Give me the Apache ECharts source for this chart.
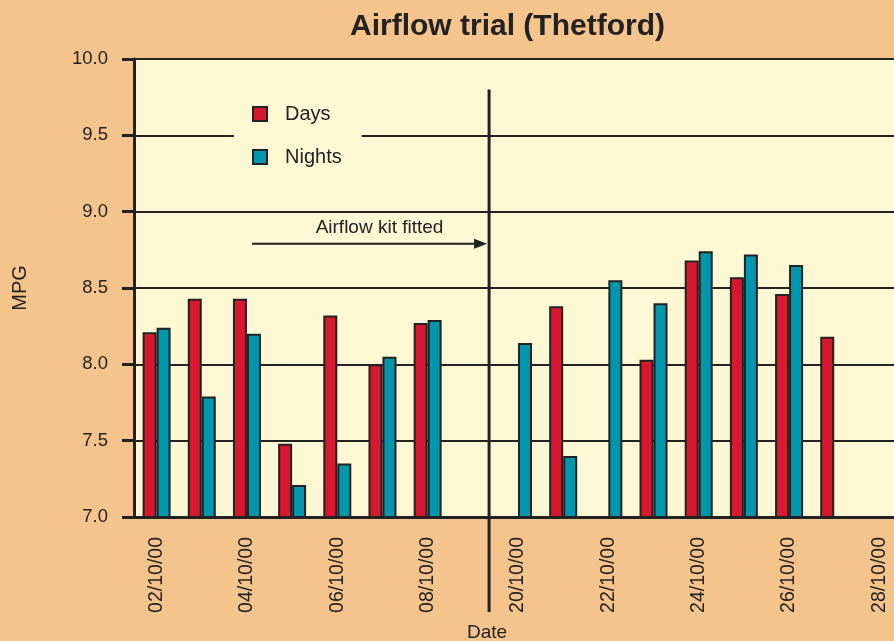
<!DOCTYPE html>
<html>
<head>
<meta charset="utf-8">
<title>Airflow trial (Thetford)</title>
<script src="https://cdn.jsdelivr.net/npm/echarts@6/dist/echarts.min.js"></script>
<style>
  html, body { margin: 0; padding: 0; background: #f4c48c; }
  #main { width: 894px; height: 641px; }
</style>
</head>
<body>
<div id="main"></div>
<script>
// data
var dates = ['02/10/00', '03/10/00', '04/10/00', '05/10/00', '06/10/00', '07/10/00', '08/10/00', '09/10/00',
             '20/10/00', '21/10/00', '22/10/00', '23/10/00', '24/10/00', '25/10/00', '26/10/00', '27/10/00', '28/10/00'];
var daysMpg = [8.21, 8.43, 8.43, 7.48, 8.32, 8.00, 8.27, null,
               null, 8.38, null, 8.03, 8.68, 8.57, 8.46, 8.18, null];
var nightsMpg = [8.24, 7.79, 8.20, 7.21, 7.35, 8.05, 8.29, null,
                 8.14, 7.40, 8.55, 8.40, 8.74, 8.72, 8.65, null, null];
var yMin = 7.0;
var yMax = 10.0;
var yStep = 0.5;
var kitFittedAfter = '09/10/00';
var kitFittedFrom = '20/10/00';

var ink = '#222222';
var font = '"Liberation Sans", Arial, Helvetica, sans-serif';
var cream = '#fff8d4';

var chart = echarts.init(document.getElementById('main'));

var option = {
    backgroundColor: '#f4c48c',
    textStyle: { fontFamily: font },
    title: {
        text: 'Airflow trial (Thetford)',
        left: 345,
        top: 7,
        textStyle: { fontFamily: font, fontSize: 30, fontWeight: 'bold', color: ink }
    },
    legend: {
        orient: 'vertical',
        left: 234,
        top: 94,
        padding: [10, 20, 10, 18],
        itemWidth: 40,
        itemHeight: 14,
        itemGap: 23,
        icon: 'path://M0,0H10V10H0Z',
        backgroundColor: cream,
        textStyle: { fontFamily: font, fontSize: 20, color: ink, lineHeight: 20 },
        data: ['Days', 'Nights']
    },
    grid: {
        left: 134,
        right: -8,
        top: 59,
        bottom: 124,
        outerBoundsMode: 'none',
        containLabel: false,
        show: true,
        backgroundColor: cream,
        borderWidth: 0
    },
    xAxis: {
        type: 'category',
        data: dates,
        axisLine: { lineStyle: { color: ink, width: 3 } },
        axisTick: { length: 10, interval: 0, lineStyle: { color: ink, width: 3 } },
        axisLabel: {
            interval: 1,
            rotate: 90,
            margin: 20,
            fontFamily: font,
            fontSize: 19.5,
            color: ink
        },
        splitLine: { show: false }
    },
    yAxis: {
        type: 'value',
        min: yMin,
        max: yMax,
        interval: yStep,
        name: 'MPG',
        nameLocation: 'middle',
        nameRotate: 90,
        nameGap: 104,
        nameTextStyle: { fontFamily: font, fontSize: 20, color: ink },
        axisLine: { show: true, lineStyle: { color: ink, width: 3 } },
        axisTick: { show: true, length: 12, lineStyle: { color: ink, width: 3 } },
        axisLabel: {
            margin: 26,
            fontFamily: font,
            fontSize: 18.5,
            color: ink,
            formatter: function (v) { return v.toFixed(1); }
        },
        splitLine: { show: true, lineStyle: { color: ink, width: 2 } }
    },
    series: [
        {
            name: 'Days',
            type: 'bar',
            barWidth: 14,
            barGap: '0%',
            data: daysMpg,
            itemStyle: { color: '#d8182f', borderColor: ink, borderWidth: 2 }
        },
        {
            name: 'Nights',
            type: 'bar',
            barWidth: 14,
            barGap: '0%',
            data: nightsMpg,
            itemStyle: { color: '#0096ad', borderColor: ink, borderWidth: 2 }
        }
    ]
};
chart.setOption(option);

// annotation: kit fitted divider + arrow, placed from the axes
var xBefore = chart.convertToPixel({ xAxisIndex: 0 }, kitFittedAfter);
var xAfter = chart.convertToPixel({ xAxisIndex: 0 }, kitFittedFrom);
var xDivider = xBefore + (xAfter - xBefore) * 0.36;
var yBase = chart.convertToPixel({ yAxisIndex: 0 }, yMin);
var yTop = chart.convertToPixel({ yAxisIndex: 0 }, 9.8);
var yArrow = chart.convertToPixel({ yAxisIndex: 0 }, 8.79);
var xArrowStart = chart.convertToPixel({ xAxisIndex: 0 }, '04/10/00') + 5;
var xArrowEnd = xDivider - 2;

chart.setOption({
    graphic: [
        {
            type: 'line',
            z: 50,
            shape: { x1: xDivider, y1: yTop, x2: xDivider, y2: yBase + 95 },
            style: { stroke: ink, lineWidth: 3 }
        },
        {
            type: 'line',
            z: 50,
            shape: { x1: xArrowStart, y1: yArrow, x2: xArrowEnd - 8, y2: yArrow },
            style: { stroke: ink, lineWidth: 2 }
        },
        {
            type: 'polygon',
            z: 50,
            shape: { points: [[xArrowEnd - 13, yArrow - 5], [xArrowEnd, yArrow], [xArrowEnd - 13, yArrow + 5]] },
            style: { fill: ink }
        },
        {
            type: 'text',
            z: 50,
            x: (xArrowStart + xArrowEnd) / 2 + 10,
            y: yArrow - 6,
            style: {
                text: 'Airflow kit fitted',
                font: '19px ' + font,
                fill: ink,
                align: 'center',
                verticalAlign: 'bottom'
            }
        },
        {
            type: 'text',
            z: 50,
            x: 487,
            y: 623,
            style: {
                text: 'Date',
                font: '19px ' + font,
                fill: ink,
                align: 'center',
                verticalAlign: 'top'
            }
        }
    ]
});
</script>
</body>
</html>
